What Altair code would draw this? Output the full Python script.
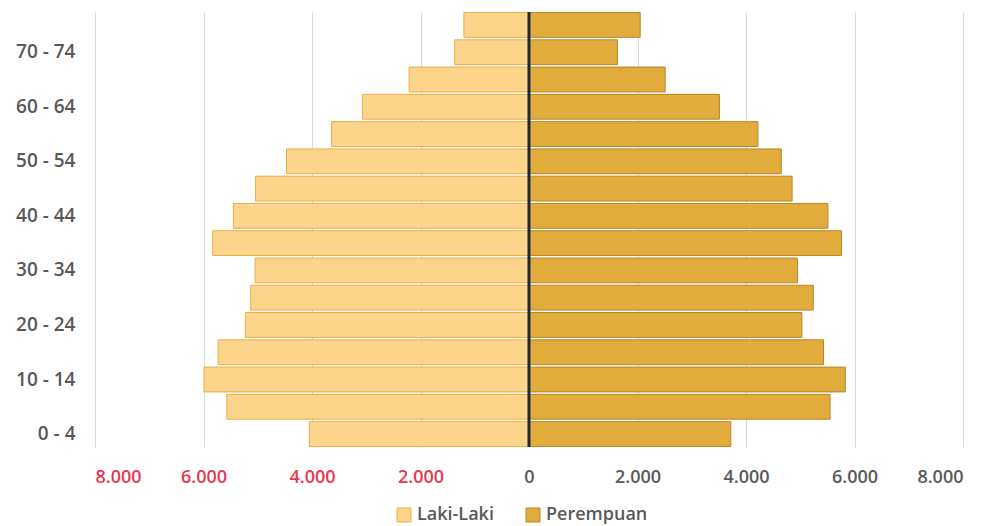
import altair as alt
import pandas as pd

ages = ["0 - 4", "5 - 9", "10 - 14", "15 - 19", "20 - 24", "25 - 29", "30 - 34",
        "35 - 39", "40 - 44", "45 - 49", "50 - 54", "55 - 59", "60 - 64",
        "65 - 69", "70 - 74", "75+"]
male = [4050, 5570, 5990, 5730, 5230, 5130, 5050, 5830, 5450, 5040, 4470,
        3640, 3070, 2210, 1370, 1200]
female = [3720, 5550, 5830, 5430, 5030, 5240, 4950, 5760, 5510, 4850, 4650,
          4220, 3510, 2510, 1630, 2050]
y_labels = ["0 - 4", "10 - 14", "20 - 24", "30 - 34", "40 - 44", "50 - 54",
            "60 - 64", "70 - 74"]
x_ticks = [-8000, -6000, -4000, -2000, 0, 2000, 4000, 6000, 8000]
genders = ["Laki-Laki", "Perempuan"]

rows = []
for a, m, f in zip(ages, male, female):
    rows.append({"age": a, "gender": "Laki-Laki", "value": -m})
    rows.append({"age": a, "gender": "Perempuan", "value": f})
df = pd.DataFrame(rows)

x_scale = alt.Scale(domain=[-8000, 8000], nice=False)

bars = alt.Chart(df).mark_bar(strokeWidth=1).encode(
    x=alt.X("value:Q", scale=x_scale,
            axis=alt.Axis(values=x_ticks, title=None, grid=True,
                          gridColor="#D9D9D9", gridWidth=1, domain=False,
                          ticks=False, labelPadding=21, labelFontSize=18,
                          labelFont="Open Sans", labelFontWeight=600,
                          labelExpr="replace(format(abs(datum.value), ','), ',', '.')",
                          labelColor=alt.condition("datum.value < 0",
                                                   alt.value("#E8384F"),
                                                   alt.value("#595959")))),
    y=alt.Y("age:N", sort=list(reversed(ages)),
            scale=alt.Scale(paddingInner=0.09, paddingOuter=0.02),
            axis=alt.Axis(values=y_labels, title=None, domain=False, ticks=False,
                          grid=False, labelPadding=20, labelFontSize=19,
                          labelFont="Open Sans", labelFontWeight=600,
                          labelColor="#595959")),
    color=alt.Color("gender:N",
                    scale=alt.Scale(domain=genders, range=["#FDD48C", "#E2AC3C"]),
                    legend=alt.Legend(title=None, orient="none", legendX=300,
                                      legendY=494, direction="horizontal",
                                      symbolType="square", symbolSize=196,
                                      symbolStrokeColor="#C8912A",
                                      symbolStrokeWidth=1,
                                      labelFontSize=18, labelFont="Open Sans",
                                      labelFontWeight=600,
                                      labelColor="#595959", columnPadding=30)),
    stroke=alt.Stroke("gender:N",
                      scale=alt.Scale(domain=genders, range=["#EAAE45", "#B8862A"]),
                      legend=None),
)

zero = alt.Chart(pd.DataFrame({"v": [0]})).mark_rule(
    color="#1F2A38", strokeWidth=3).encode(x=alt.X("v:Q", scale=x_scale))

chart = alt.layer(bars, zero).properties(
    width=868, height=435,
    background="white",
    autosize=alt.AutoSizeParams(type="none"),
    padding={"left": 95, "top": 12, "right": 27, "bottom": 79},
).configure_view(stroke=None)

chart.save("out.html", embed_options={"renderer": "svg", "actions": False})
